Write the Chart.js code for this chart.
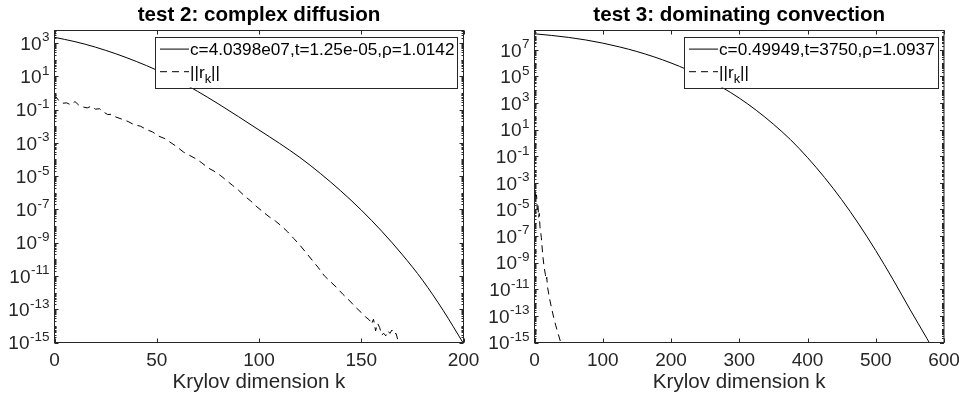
<!DOCTYPE html>
<html>
<head>
<meta charset="utf-8">
<script src="https://cdn.jsdelivr.net/npm/chart.js@4.4.0/dist/chart.umd.min.js"></script>
<style>
  html, body { margin: 0; padding: 0; background: #fff; }
  #wrap { position: relative; width: 959px; height: 400px; }
  canvas { position: absolute; top: 0; }
</style>
</head>
<body>
<div id="wrap">
  <canvas id="left" width="480" height="400" style="left:0"></canvas>
  <canvas id="right" width="479" height="400" style="left:480px"></canvas>
</div>
<script>
// test 2: complex diffusion  (values are log10 of the plotted quantity)
var k2Solid = [0, 10, 20, 30, 40, 50, 60, 70, 80, 90, 100, 110, 120, 130, 140, 150, 160, 170, 180, 190, 200];
var log2Solid = [3.34, 3.08, 2.75, 2.35, 1.89, 1.37, 0.77, 0.09, -0.65, -1.43, -2.23, -3.03, -3.88, -4.84, -5.89, -7.04, -8.31, -9.71, -11.26, -13.06, -15.06];
var k2Dash = [0, 2, 4, 6, 8, 10, 12, 14, 16, 18, 20, 22, 24, 26, 28, 30, 33, 36, 39, 42, 45, 48, 51, 54, 57, 60,
  63, 66, 69, 72, 75, 78, 81, 84, 87, 90, 93, 96, 99, 102, 105, 108, 111, 114, 117, 120, 123, 126, 129, 132,
  135, 138, 141, 144, 147, 150, 152, 154, 155, 156, 157, 158, 159, 160, 161, 162, 163, 164, 165, 166, 167, 168];
var log2Dash = [-0.12, -0.45, -0.62, -0.6, -0.72, -0.52, -0.75, -0.85, -0.9, -0.8, -0.98, -0.95, -1.15, -1.3, -1.28, -1.45, -1.58, -1.72, -1.92, -2.0, -2.2, -2.35, -2.6, -2.75, -3.0, -3.25,
  -3.55, -3.75, -3.95, -4.2, -4.5, -4.7, -4.95, -5.25, -5.55, -5.85, -6.2, -6.5, -6.85, -7.15, -7.45, -7.7, -8.0, -8.35, -8.75, -9.15, -9.6, -10.05, -10.5, -11.0,
  -11.35, -11.7, -12.1, -12.45, -12.85, -13.2, -13.45, -13.65, -13.9, -13.6, -14.3, -13.85, -14.1, -14.55, -14.45, -14.6, -14.3, -14.45, -14.25, -14.5, -14.45, -14.9];
var legend2 = ['c=4.0398e07,t=1.25e-05,\u03c1=1.0142', '||r_k||'];
var yLabelExp2 = [3, 1, -1, -3, -5, -7, -9, -11, -13, -15];

// test 3: dominating convection
var k3Solid = [0, 25, 50, 75, 100, 125, 150, 175, 200, 225, 250, 275, 300, 325, 350, 375, 400, 425, 450, 475, 500, 525, 550, 575, 585];
var log3Solid = [8.2, 8.08, 7.93, 7.74, 7.50, 7.21, 6.87, 6.47, 6.01, 5.48, 4.87, 4.17, 3.37, 2.45, 1.41, 0.25, -1.10, -2.60, -4.26, -6.09, -8.09, -10.24, -12.5, -14.7, -15.6];
var k3Dash = [1, 2, 3, 4, 5, 6, 7, 8, 10, 12, 14, 16, 17, 18, 19, 22, 25, 28, 31, 35, 39];
var log3Dash = [-3.6, -4.3, -3.9, -5.0, -4.6, -5.6, -5.3, -6.3, -7.1, -8.4, -9.3, -9.9, -10.3, -10.1, -10.8, -11.7, -12.4, -13.1, -13.7, -14.4, -15.1];
var legend3 = ['c=0.49949,t=3750,\u03c1=1.0937', '||r_k||'];
var yLabelExp3 = [7, 5, 3, 1, -1, -3, -5, -7, -9, -11, -13, -15];

const FONT = '"Liberation Sans", Arial, Helvetica, sans-serif';
const INK = '#262626';

var toPoints = (ks, logs) => ks.map((k, i) => ({ x: k, y: Math.pow(10, logs[i]) }));

// rich text: "a_kb" -> a, subscript k, b
function drawRich(ctx, text, x, y, size) {
  var m = text.match(/^(.*?)_(\w)(.*)$/);
  ctx.font = size + 'px ' + FONT;
  if (!m) { ctx.fillText(text, x, y); return; }
  ctx.fillText(m[1], x, y);
  x += ctx.measureText(m[1]).width;
  ctx.font = (size * 0.75) + 'px ' + FONT;
  ctx.fillText(m[2], x, y + 5);
  x += ctx.measureText(m[2]).width;
  ctx.font = size + 'px ' + FONT;
  ctx.fillText(m[3], x, y);
}

var matlabAxes = {
  id: 'matlabAxes',
  afterDraw(chart, args, opts) {
    var ctx = chart.ctx, a = chart.chartArea;
    var xs = chart.scales.x, ys = chart.scales.y;
    ctx.save();
    ctx.strokeStyle = INK;
    ctx.lineWidth = 1;
    ctx.setLineDash([]);
    ctx.beginPath();
    // inward x ticks, top and bottom
    xs.ticks.forEach(t => {
      var px = Math.round(xs.getPixelForValue(t.value)) + 0.5;
      ctx.moveTo(px, a.bottom); ctx.lineTo(px, a.bottom - 4);
      ctx.moveTo(px, a.top); ctx.lineTo(px, a.top + 4);
    });
    // inward y ticks, major on labelled decades, minor otherwise
    var lo = Math.floor(Math.log10(ys.min)), hi = Math.ceil(Math.log10(ys.max));
    for (var e = lo; e <= hi; e++) {
      for (var m = 1; m < 10; m++) {
        var v = m * Math.pow(10, e);
        if (v < ys.min * 0.999 || v > ys.max) continue;
        var py = Math.round(ys.getPixelForValue(v)) + 0.5;
        var len = (m === 1 && opts.labels.indexOf(e) >= 0) ? 4 : 2;
        ctx.moveTo(a.left, py); ctx.lineTo(a.left + len, py);
        ctx.moveTo(a.right, py); ctx.lineTo(a.right - len, py);
      }
    }
    ctx.stroke();
    ctx.strokeRect(a.left, a.top, a.right - a.left, a.bottom - a.top);

    // y tick labels 10^n
    ctx.fillStyle = INK;
    ctx.textBaseline = 'alphabetic';
    ctx.textAlign = 'left';
    ys.ticks.forEach(t => {
      var py = ys.getPixelForValue(t.value);
      var ex = String(Math.round(Math.log10(t.value)));
      ctx.font = '13.5px ' + FONT;
      var we = ctx.measureText(ex).width;
      ctx.font = '19px ' + FONT;
      var wb = ctx.measureText('10').width;
      var right = a.left - 5;
      ctx.fillText('10', right - we - wb - 0.5, py + 6.8);
      ctx.font = '13.5px ' + FONT;
      ctx.fillText(ex, right - we, py - 1.6);
    });

    // title
    ctx.fillStyle = '#000';
    ctx.font = 'bold 20.6px ' + FONT;
    ctx.textAlign = 'center';
    ctx.fillText(opts.title, (a.left + a.right) / 2, 20.5);

    // legend
    var bx = a.right - opts.legendWidth, bw = opts.legendWidth - 6.5;
    var by = a.top + 6, bh = 51;
    ctx.fillStyle = '#fff';
    ctx.fillRect(bx, by, bw, bh);
    ctx.strokeStyle = INK;
    ctx.strokeRect(Math.round(bx) + 0.5, Math.round(by) + 0.5, Math.round(bw), bh);
    ctx.textAlign = 'left';
    ctx.fillStyle = '#000';
    chart.data.datasets.forEach((ds, i) => {
      var cy = by + 12.6 + i * 22.6;
      ctx.beginPath();
      ctx.strokeStyle = '#000';
      ctx.setLineDash(ds.borderDash || []);
      ctx.moveTo(bx + 5, cy); ctx.lineTo(bx + 34, cy);
      ctx.stroke();
      ctx.setLineDash([]);
      drawRich(ctx, ds.label, bx + 35, cy + 6.2, 17.2);
    });
    ctx.restore();
  }
};

function makeChart(id, title, xMax, xStep, yMaxExp, labelExps, legendWidth, padRight, solid, dash, legend) {
  return new Chart(document.getElementById(id), {
    type: 'line',
    data: {
      datasets: [
        { label: legend[0], data: solid, borderColor: '#000', borderWidth: 1, pointRadius: 0, cubicInterpolationMode: 'monotone' },
        { label: legend[1], data: dash, borderColor: '#000', borderWidth: 1, pointRadius: 0, borderDash: [7, 5], tension: 0 }
      ]
    },
    options: {
      responsive: false,
      animation: false,
      events: [],
      layout: { padding: { left: 0, right: padRight, top: 30.5, bottom: 0 } },
      scales: {
        x: {
          type: 'linear', min: 0, max: xMax,
          grid: { display: false, drawTicks: false },
          border: { display: false },
          ticks: { stepSize: xStep, padding: 7, maxRotation: 0, autoSkip: false, color: INK, font: { family: FONT, size: 19 } },
          title: { display: true, text: 'Krylov dimension k', color: INK, font: { family: FONT, size: 20.6 }, padding: { top: 0, bottom: 5 } },
          afterFit: s => { s.height = 57.5; s.paddingLeft = 0; s.paddingRight = 0; }
        },
        y: {
          type: 'logarithmic', min: 1e-15, max: Math.pow(10, yMaxExp),
          grid: { display: false },
          border: { display: false },
          ticks: { display: false },
          afterBuildTicks: s => { s.ticks = labelExps.map(e => ({ value: Math.pow(10, e) })); },
          afterFit: s => { s.width = 54.5; s.paddingTop = 0; s.paddingBottom = 0; }
        }
      },
      plugins: {
        legend: { display: false },
        tooltip: { enabled: false },
        matlabAxes: { title: title, labels: labelExps, legendWidth: legendWidth }
      }
    },
    plugins: [matlabAxes]
  });
}

makeChart('left', 'test 2: complex diffusion', 200, 50, 3.75, yLabelExp2, 308.5, 16.5,
  toPoints(k2Solid, log2Solid), toPoints(k2Dash, log2Dash), legend2);
makeChart('right', 'test 3: dominating convection', 600, 100, 8.45, yLabelExp3, 260, 15,
  toPoints(k3Solid, log3Solid), toPoints(k3Dash, log3Dash), legend3);
</script>
</body>
</html>
